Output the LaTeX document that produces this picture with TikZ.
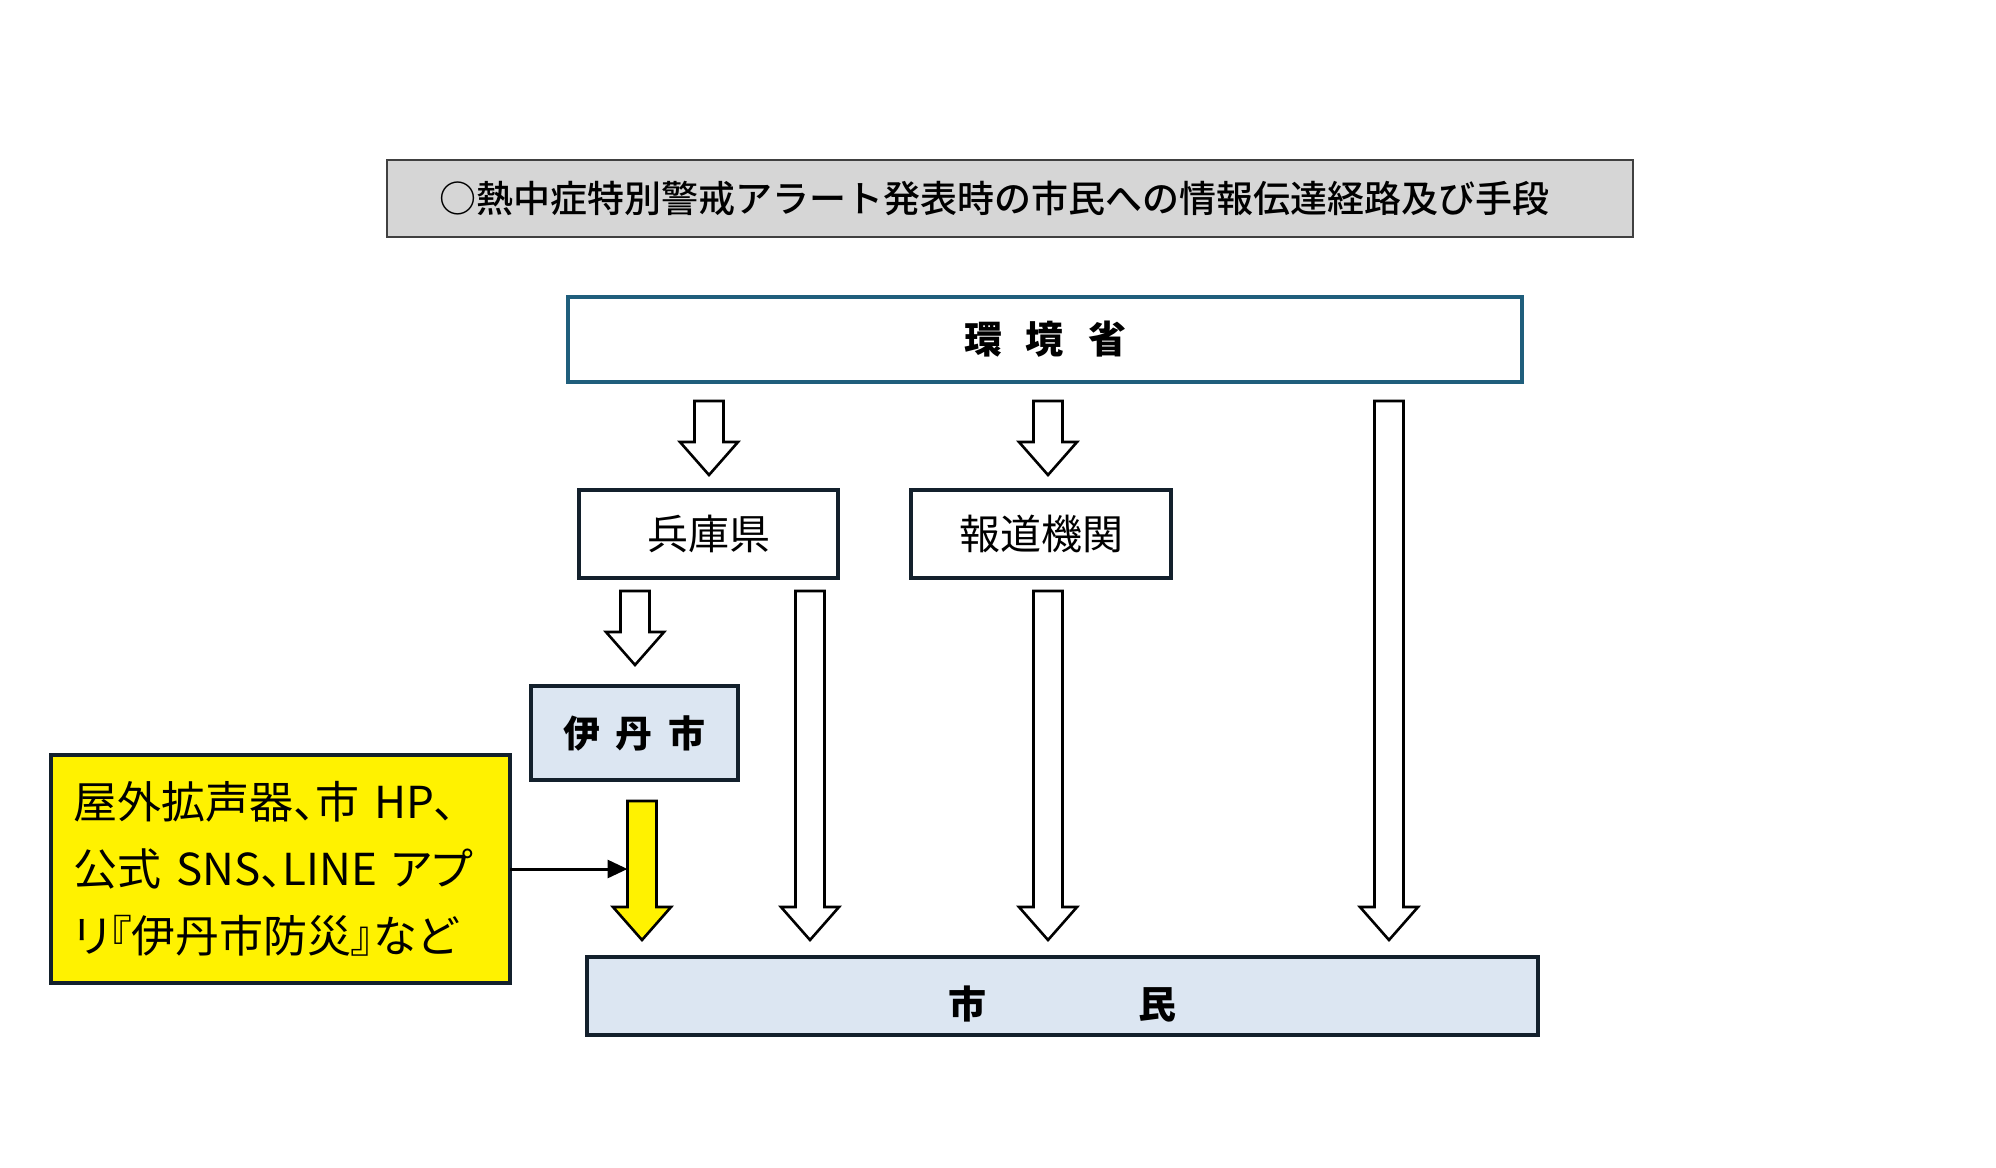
\documentclass[tikz,border=0pt]{standalone}
\usepackage{fontspec}
\newfontfamily\jp{Noto Sans CJK JP}
\newfontfamily\jpm{Noto Sans CJK JP Medium}
\newfontfamily\jpp{Noto Sans CJK JP}[RawFeature=+palt]
\usepackage{xcolor}
\usetikzlibrary{calc,arrows.meta}
\definecolor{moeblue}{HTML}{1F5E7C}
\definecolor{boxline}{HTML}{13202C}
\definecolor{paleblue}{HTML}{DCE6F2}
\definecolor{titlegray}{HTML}{D6D6D6}

% block arrow from #2 (top) to #3 (tip), fill #1
\newcommand{\fatarrow}[3][white]{%
  \draw[fat arrow,fill=#1] let \p1=(#2), \p2=(#3) in
    (\x1-7.25pt,\y1) -- (\x1+7.25pt,\y1) -- (\x1+7.25pt,\y2+16.5pt) -- (\x1+14.5pt,\y2+16.5pt)
    -- (\x1,\y2) -- (\x1-14.5pt,\y2+16.5pt) -- (\x1-7.25pt,\y2+16.5pt) -- cycle;}

\begin{document}
\begin{tikzpicture}[
    x=0.5pt, y=-0.5pt,
    font=\jp,
    box/.style={draw=boxline, line width=2pt, inner sep=0pt, outer sep=0pt},
    fat arrow/.style={draw=black, line width=1.3pt, line join=miter},
    big/.style={font=\jp\fontsize{20.5}{24}\selectfont}
    ]
\useasboundingbox (0,0) rectangle (1996,1167);

\node[draw=black!75, line width=0.8pt, fill=titlegray, inner sep=0pt,
      minimum width=623pt, minimum height=38.5pt,
      font=\jpm\fontsize{18.5}{22}\selectfont] (title) at (1010,198.5)
      {\hspace*{-16pt}○熱中症特別警戒アラート発表時の市民への情報伝達経路及び手段};

\node[box, draw=moeblue, minimum width=477pt, minimum height=42.5pt,
      font=\jp\bfseries\fontsize{19}{22}\selectfont] (moe) at (1045,339.5)
      {環\hspace{12pt}境\hspace{12pt}省};

\node[box, big, minimum width=129.5pt, minimum height=44pt] (hyogo) at (708.5,534) {兵庫県};
\node[box, big, minimum width=130pt, minimum height=44pt] (media) at (1041,534) {報道機関};

\node[box, fill=paleblue, minimum width=103.5pt, minimum height=47pt,
      font=\jp\bfseries\fontsize{18.5}{22}\selectfont] (itami) at (634.5,733)
      {伊\hspace{8pt}丹\hspace{8pt}市};

\node[box, fill=yellow, minimum width=229.5pt, minimum height=114pt,
      text width=207pt, align=left,
      font=\jpp\fontsize{22}{33.5}\selectfont] (tools) at (280.5,869)
      {屋外拡声器、市 HP、\\公式 SNS、LINE アプ\\リ『伊丹市防災』など};

\node[box, fill=paleblue, minimum width=475.5pt, minimum height=39pt,
      font=\jp\bfseries\fontsize{19}{22}\selectfont] (shimin) at (1062.5,996)
      {\raisebox{-4pt}[\height][\depth]{市　　　　民}};

% arrow ends
\coordinate (a1s) at (709,401);  \coordinate (a1e) at (709,475);
\coordinate (a2s) at (1048,401); \coordinate (a2e) at (1048,475);
\coordinate (a3s) at (1389,401); \coordinate (a3e) at (1389,940);
\coordinate (a4s) at (635,591);  \coordinate (a4e) at (635,665);
\coordinate (a5s) at (810,591);  \coordinate (a5e) at (810,940);
\coordinate (a6s) at (1048,591); \coordinate (a6e) at (1048,940);
\coordinate (ys) at (642,801);   \coordinate (ye) at (642,940);
\coordinate (yhit) at (627.5,869);

\fatarrow{a1s}{a1e}
\fatarrow{a2s}{a2e}
\fatarrow{a3s}{a3e}
\fatarrow{a4s}{a4e}
\fatarrow{a5s}{a5e}
\fatarrow{a6s}{a6e}
\fatarrow[yellow]{ys}{ye}

\draw[line width=1.5pt, -{Triangle[length=10pt,width=9pt]}] (tools.east) -- (yhit);
\end{tikzpicture}
\end{document}
